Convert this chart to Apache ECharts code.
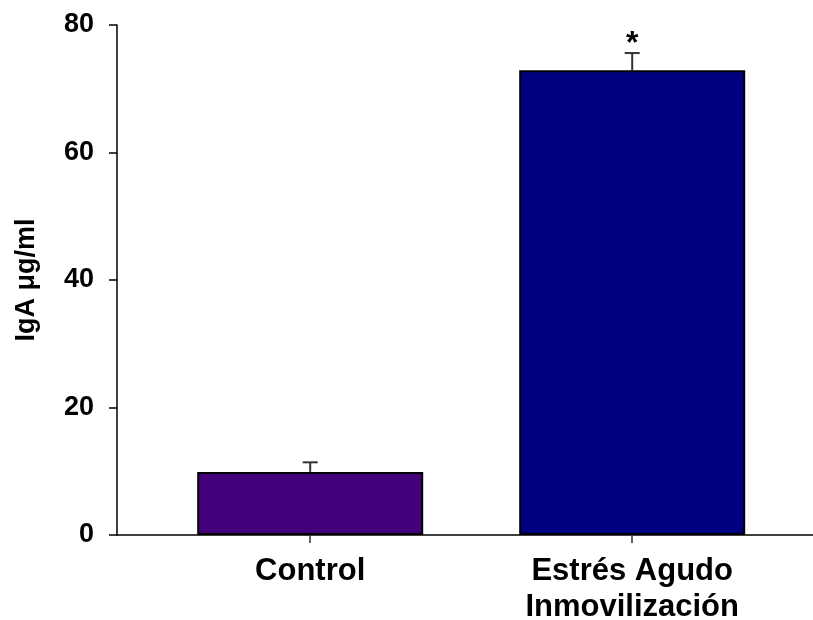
<!DOCTYPE html>
<html>
<head>
<meta charset="utf-8">
<script src="https://cdn.jsdelivr.net/npm/echarts@6/dist/echarts.min.js"></script>
<style>html,body{margin:0;padding:0;background:#fff;}#c{width:813px;height:620px;}</style>
</head>
<body>
<div id="c"></div>
<script>
const categories = ['Control', 'Estrés Agudo\nInmovilización'];
const positions = [1, 2];
const means = [9.9, 72.9];
const upperErr = [11.4, 75.6];
const barColors = ['#44007A', '#000080'];
const significance = ['', '*'];
const yTicks = [0, 20, 40, 60, 80];

const FONT = '"Liberation Sans", Arial, sans-serif';
const chart = echarts.init(document.getElementById('c'));
chart.setOption({
  animation: false,
  backgroundColor: '#fff',
  grid: { left: 117, right: 0, top: 25, bottom: 85, containLabel: false, outerBoundsMode: 'none' },
  xAxis: {
    type: 'value', min: 0.4, max: 2.5615,
    splitLine: { show: false },
    axisLine: { lineStyle: { color: '#000', width: 1.5 } },
    axisTick: { customValues: positions, length: 8, inside: false, lineStyle: { color: '#333', width: 1.5 } },
    axisLabel: {
      customValues: positions,
      formatter: v => categories[positions.indexOf(Math.round(v))] || '',
      color: '#000', fontFamily: FONT, fontWeight: 'bold', fontSize: 31, lineHeight: 36, margin: 18
    }
  },
  yAxis: {
    type: 'value', min: 0, max: 80, interval: 20,
    name: 'IgA μg/ml', nameLocation: 'middle', nameGap: 77,
    nameTextStyle: { color: '#000', fontFamily: FONT, fontWeight: 'bold', fontSize: 27 },
    splitLine: { show: false },
    axisLine: { show: true, lineStyle: { color: '#000', width: 1.5 } },
    axisTick: { show: true, length: 8, lineStyle: { color: '#000', width: 1.5 } },
    axisLabel: { color: '#000', fontFamily: FONT, fontWeight: 'bold', fontSize: 27, margin: 23,
      formatter: v => yTicks.includes(v) ? String(v) : '' }
  },
  series: [
    {
      type: 'bar',
      barWidth: 226,
      data: positions.map((p, i) => ({ value: [p, means[i]], itemStyle: { color: barColors[i] } })),
      itemStyle: { borderColor: '#000', borderWidth: 2 },
      z: 2
    },
    {
      type: 'custom',
      z: 3,
      data: positions.map((p, i) => [p, means[i], upperErr[i], i]),
      renderItem: function (params, api) {
        const x = api.value(0);
        const base = api.coord([x, api.value(1)]);
        const top = api.coord([x, api.value(2)]);
        const idx = api.value(3);
        const children = [
          { type: 'line', shape: { x1: base[0], y1: base[1], x2: top[0], y2: top[1] }, style: { stroke: '#333', lineWidth: 2 } },
          { type: 'line', shape: { x1: top[0] - 7.5, y1: top[1], x2: top[0] + 7.5, y2: top[1] }, style: { stroke: '#333', lineWidth: 2 } }
        ];
        if (significance[idx]) {
          children.push({ type: 'text', x: top[0], y: top[1] - 9,
            style: { text: significance[idx], fill: '#000', font: 'bold 32px ' + FONT, align: 'center', verticalAlign: 'middle' } });
        }
        return { type: 'group', children: children };
      }
    }
  ]
});
</script>
</body>
</html>
